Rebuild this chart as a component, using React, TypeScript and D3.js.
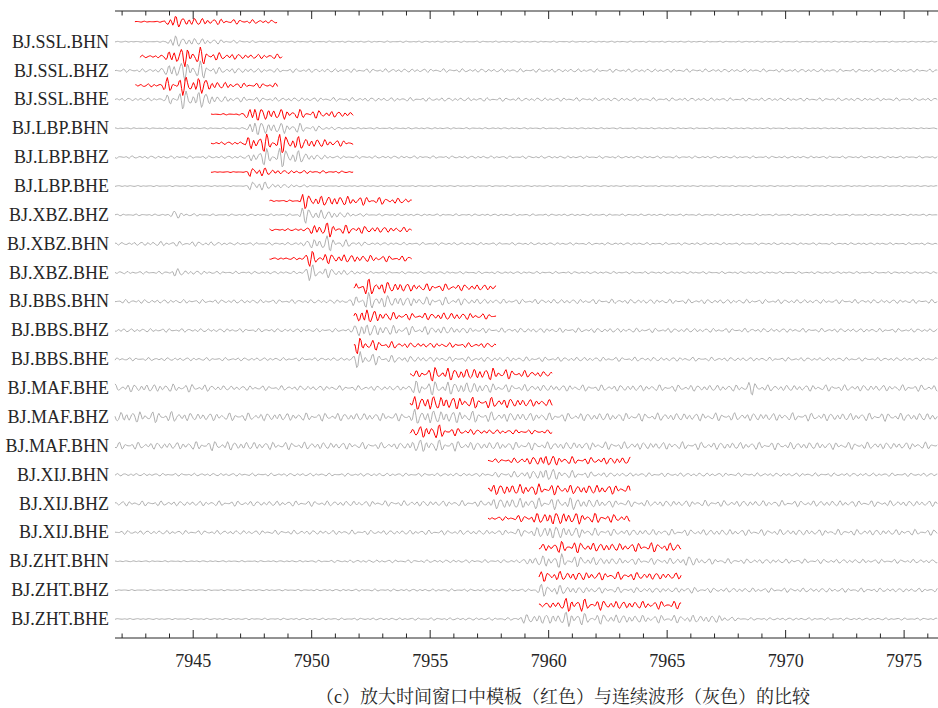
import React from 'react';
import * as d3 from 'd3';

// station channels, top to bottom
const channels = [
  'BJ.SSL.BHN', 'BJ.SSL.BHZ', 'BJ.SSL.BHE',
  'BJ.LBP.BHN', 'BJ.LBP.BHZ', 'BJ.LBP.BHE',
  'BJ.XBZ.BHZ', 'BJ.XBZ.BHN', 'BJ.XBZ.BHE',
  'BJ.BBS.BHN', 'BJ.BBS.BHZ', 'BJ.BBS.BHE',
  'BJ.MAF.BHE', 'BJ.MAF.BHZ', 'BJ.MAF.BHN',
  'BJ.XIJ.BHN', 'BJ.XIJ.BHZ', 'BJ.XIJ.BHE',
  'BJ.ZHT.BHN', 'BJ.ZHT.BHZ', 'BJ.ZHT.BHE',
];

const timeDomain = [7941.7, 7976.43];
const majorTicks = [7945, 7950, 7955, 7960, 7965, 7970, 7975];

// continuous waveform envelope (gray), [time, amplitude] knots
const grayEnvelope: [number, number][][] = [
  [[7942, 0.3], [7943.85, 0.3], [7944.0, 6], [7944.4, 3], [7945.5, 2], [7946.5, 1], [7948, 0.4], [7976.5, 0.3]],
  [[7942, 1], [7943.6, 1.2], [7944.0, 4.5], [7944.8, 6.5], [7945.6, 5], [7946, 2], [7948, 1.2], [7976.5, 0.9]],
  [[7942, 0.9], [7943.8, 1], [7944.1, 5.5], [7944.9, 6], [7945.6, 5], [7946, 2], [7948, 1.2], [7976.5, 0.9]],
  [[7942, 0.3], [7947.2, 0.4], [7947.45, 6], [7948, 4], [7949.5, 3], [7950.3, 1.5], [7951.5, 0.4], [7976.5, 0.3]],
  [[7942, 0.8], [7946.5, 0.8], [7947.3, 1], [7947.5, 4], [7948.6, 6.5], [7949.3, 5], [7950, 2], [7951, 0.8], [7976.5, 0.6]],
  [[7942, 0.3], [7947.3, 0.3], [7947.5, 6], [7947.9, 3], [7948.5, 1.5], [7949.5, 0.8], [7950.5, 0.3], [7976.5, 0.3]],
  [[7942, 0.5], [7944.0, 0.5], [7944.2, 3.5], [7944.6, 1], [7945.5, 0.5], [7949.3, 0.6], [7949.55, 5.5], [7950.3, 3.5], [7951.5, 1.5], [7952.5, 0.6], [7976.5, 0.5]],
  [[7942, 0.8], [7943.5, 1.5], [7945.5, 1.5], [7946.5, 0.8], [7949.4, 0.8], [7950, 3], [7950.6, 5.5], [7951.3, 2.5], [7952.5, 0.8], [7976.5, 0.6]],
  [[7942, 0.8], [7944.0, 0.8], [7944.2, 3], [7944.7, 1.5], [7946, 0.8], [7949.5, 0.8], [7949.75, 5.5], [7950.5, 3.5], [7951.5, 1.5], [7952.5, 0.7], [7976.5, 0.6]],
  [[7942, 1.2], [7951.7, 1.2], [7951.9, 6], [7952.8, 4.5], [7954, 3], [7956, 2.5], [7957.5, 1.5], [7976.5, 1.2]],
  [[7942, 1.1], [7951.7, 1.1], [7951.9, 6], [7952.5, 4], [7953.5, 3], [7955.5, 2.5], [7957, 1.5], [7976.5, 1.1]],
  [[7942, 1], [7951.7, 1], [7951.85, 6], [7952.4, 4], [7953.2, 2.5], [7955, 1.5], [7976.5, 1]],
  [[7942, 2.5], [7945, 2.5], [7946.5, 1.5], [7954, 1.5], [7954.4, 4.5], [7956.5, 4], [7958, 2.5], [7960, 2], [7968, 2], [7968.5, 4.5], [7969.2, 2], [7976.5, 2]],
  [[7942, 3.5], [7944, 3.5], [7945, 2.5], [7954, 2.5], [7954.4, 5], [7956, 4], [7958, 3], [7960, 2.5], [7976.5, 2.5]],
  [[7942, 2.2], [7944, 2.2], [7946, 3], [7947.5, 2.5], [7954, 2], [7954.4, 4.5], [7955.5, 3.5], [7957, 2.5], [7976.5, 2.2]],
  [[7942, 0.8], [7957, 1], [7958.5, 2], [7959.6, 3], [7959.85, 5.5], [7960.4, 3], [7961.5, 2], [7963, 1.2], [7976.5, 1]],
  [[7942, 1.5], [7957.3, 1.8], [7957.6, 3.5], [7960.8, 3.5], [7961, 4.5], [7961.5, 3], [7963, 2], [7976.5, 1.8]],
  [[7942, 1.2], [7958, 1.5], [7959.5, 3], [7959.9, 5], [7961, 3.5], [7962, 2.5], [7963, 2], [7976.5, 1.8]],
  [[7942, 0.3], [7949, 0.4], [7952, 0.8], [7958.8, 1], [7959.3, 3], [7960.5, 4.5], [7961.5, 3], [7963, 2], [7965.6, 2], [7965.9, 4], [7966.3, 2], [7968, 1.5], [7976.5, 1.2]],
  [[7942, 0.3], [7949, 0.4], [7952, 0.6], [7959.3, 0.8], [7959.5, 4], [7960.3, 3.5], [7961.3, 2], [7965.5, 1.5], [7965.8, 3], [7966.2, 1.5], [7976.5, 1.2]],
  [[7942, 0.3], [7950, 0.5], [7958.5, 0.8], [7959, 3], [7960.5, 3.5], [7961, 6], [7961.5, 3.5], [7964, 2.5], [7967.2, 2.5], [7968, 0.8], [7976.5, 0.6]],
];

// template window start (s) for each channel, window length 6 s
const templateStart = [
  7942.54, 7942.75, 7942.56,
  7945.75, 7945.75, 7945.75,
  7948.22, 7948.22, 7948.22,
  7951.78, 7951.78, 7951.78,
  7954.15, 7954.15, 7954.15,
  7957.44, 7957.44, 7957.44,
  7959.59, 7959.59, 7959.59,
];
const templateLength = 6;

// template envelope (red), [seconds after start, amplitude]
const templateEnvelope: [number, number][][] = [
  [[0, 0.3], [1.2, 0.3], [1.4, 6], [1.8, 3.5], [2.5, 2.5], [4, 1.5], [6, 1]],
  [[0, 0.8], [1, 1], [1.2, 4], [2, 6.5], [2.8, 5], [3.2, 2.5], [4.5, 1.5], [6, 1.5]],
  [[0, 0.8], [1, 1.2], [1.4, 5], [2.2, 6], [3, 5], [3.3, 2.5], [4.5, 1.5], [6, 1.5]],
  [[0, 0.3], [1.4, 0.5], [1.55, 6], [2.2, 4], [3.5, 3], [4.5, 2.5], [6, 1.5]],
  [[0, 0.8], [1.4, 1], [1.6, 4.5], [2.8, 6.5], [3.5, 5], [4.2, 3], [6, 1.5]],
  [[0, 0.2], [1.55, 0.3], [1.7, 5.5], [2.1, 3], [3, 1.2], [6, 0.5]],
  [[0, 0.4], [1.2, 0.5], [1.4, 5], [2, 3.5], [3.5, 3], [5, 2], [6, 1.5]],
  [[0, 0.5], [1.5, 0.8], [1.8, 3], [2.4, 5], [3, 3], [4.5, 2], [6, 1.5]],
  [[0, 0.5], [1.3, 0.8], [1.5, 5.5], [2.2, 3.5], [3.5, 2.5], [6, 1.5]],
  [[0, 0.5], [0.1, 4], [0.5, 5.5], [1.2, 4], [2.5, 2.5], [6, 1.8]],
  [[0, 0.5], [0.1, 5], [0.6, 5], [1.2, 3], [2.5, 2], [4, 2.5], [6, 1.5]],
  [[0, 0.5], [0.08, 6], [0.5, 4], [1.2, 2.5], [2.5, 1.5], [6, 1.5]],
  [[0, 1], [0.5, 3], [1, 4.5], [2.5, 3.5], [3.5, 4], [4.5, 2.5], [6, 1.5]],
  [[0, 1.5], [0.3, 5], [1.5, 4.5], [2.5, 3.5], [3.5, 3.5], [5, 2.5], [6, 2]],
  [[0, 2], [0.5, 4], [1, 5], [1.8, 2.5], [3, 1.5], [6, 1.2]],
  [[0, 1], [1, 1.5], [2.2, 3], [2.4, 5], [2.8, 3], [4, 2], [6, 2.5]],
  [[0, 2.5], [0.2, 3.5], [2, 3.5], [3.5, 3], [5, 3], [6, 2.5]],
  [[0, 0.8], [1, 1.5], [2, 3], [2.5, 4.5], [4, 3.5], [6, 2]],
  [[0, 1.5], [0.5, 3], [1.2, 4], [2, 3], [3.5, 2.5], [5, 3], [6, 2.5]],
  [[0, 2], [0.2, 3.5], [1, 3], [2.5, 2.5], [4, 2.5], [6, 2]],
  [[0, 1], [0.8, 2.5], [1.4, 5.5], [2, 3.5], [3.5, 2.5], [5, 2.5], [6, 2.5]],
];

// oscillation shape under the envelopes
const carrierPeriods = [0.27, 0.41, 0.19];
const carrierWeights = [1, 0.6, 0.4];
const sampleStep = 0.05;

const W = 938;
const H = 708;
const plotLeft = 115;
const plotRight = 938;
const topAxisY = 11;
const bottomAxisY = 638;
const serif = '"Liberation Serif", "Times New Roman", serif';
const titleFont = '"Liberation Serif", "Noto Serif CJK SC", serif';
const ink = '#262626';

const carrier = (t: number, k: number) => {
  let s = 0;
  carrierPeriods.forEach((p, j) => {
    s += carrierWeights[j] * Math.sin((2 * Math.PI * t) / p + k * (1.3 + j * 0.8) + j);
  });
  return s / 1.1;
};

const envScale = (knots: [number, number][]) =>
  d3.scaleLinear().domain(knots.map(d => d[0])).range(knots.map(d => d[1])).clamp(true);

const App = () => {
  const x = d3.scaleLinear().domain(timeDomain).range([plotLeft, plotRight]);
  const y = d3.scalePoint().domain(channels).range([41.7, 619]);
  const minorTicks = d3.range(Math.ceil(timeDomain[0]), Math.floor(timeDomain[1]) + 1)
    .filter(t => t % 5 !== 0);

  const line = d3.line<[number, number]>().x(d => d[0]).y(d => d[1]);

  const grayPaths = channels.map((ch, k) => {
    const env = envScale(grayEnvelope[k]);
    const base = y(ch)!;
    const pts: [number, number][] = d3.range(timeDomain[0], timeDomain[1], sampleStep)
      .map(t => [x(t), base - env(t) * carrier(t, k)]);
    return line(pts);
  });

  // red template sits a little above its gray trace
  const redPaths = channels.map((ch, k) => {
    const t0 = templateStart[k];
    const env = envScale(templateEnvelope[k]);
    const base = y(ch)! - (k === 0 ? 20 : 14);
    const pts: [number, number][] = d3.range(0, templateLength + 1e-6, sampleStep)
      .map(s => [x(t0 + s), base - env(s) * carrier(t0 + s, k)]);
    return line(pts);
  });

  return (
    <svg width={W} height={H} style={{ position: 'absolute', left: 0, top: 0, background: '#fff' }}>
      {grayPaths.map((d, i) => (
        <path key={'g' + i} d={d || ''} fill="none" stroke="#b0b0b0" strokeWidth={1} />
      ))}
      {redPaths.map((d, i) => (
        <path key={'r' + i} d={d || ''} fill="none" stroke="#ff0000" strokeWidth={1} />
      ))}

      {/* top axis */}
      <line x1={plotLeft} x2={plotRight} y1={topAxisY} y2={topAxisY} stroke={ink} strokeWidth={1} />
      {majorTicks.map(t => (
        <line key={'tM' + t} x1={x(t)} x2={x(t)} y1={topAxisY} y2={topAxisY + 8} stroke={ink} />
      ))}
      {minorTicks.map(t => (
        <line key={'tm' + t} x1={x(t)} x2={x(t)} y1={topAxisY} y2={topAxisY + 4.5} stroke={ink} />
      ))}

      {/* bottom axis */}
      <line x1={plotLeft} x2={plotRight} y1={bottomAxisY} y2={bottomAxisY} stroke={ink} strokeWidth={1} />
      {majorTicks.map(t => (
        <line key={'bM' + t} x1={x(t)} x2={x(t)} y1={bottomAxisY} y2={bottomAxisY - 8} stroke={ink} />
      ))}
      {minorTicks.map(t => (
        <line key={'bm' + t} x1={x(t)} x2={x(t)} y1={bottomAxisY} y2={bottomAxisY - 4.5} stroke={ink} />
      ))}
      {majorTicks.map(t => (
        <text key={'bl' + t} x={x(t)} y={667} textAnchor="middle" fontSize={18} fill={ink}
          style={{ fontFamily: serif }}>
          {t}
        </text>
      ))}

      {channels.map(ch => (
        <text key={ch} x={109} y={y(ch)! + 6} textAnchor="end" fontSize={18} fill={ink}
          style={{ fontFamily: serif }}>
          {ch}
        </text>
      ))}

      <text x={563} y={703} textAnchor="middle" fontSize={18} fill={ink} style={{ fontFamily: titleFont }}>
        （c）放大时间窗口中模板（红色）与连续波形（灰色）的比较
      </text>
    </svg>
  );
};

export default App;
